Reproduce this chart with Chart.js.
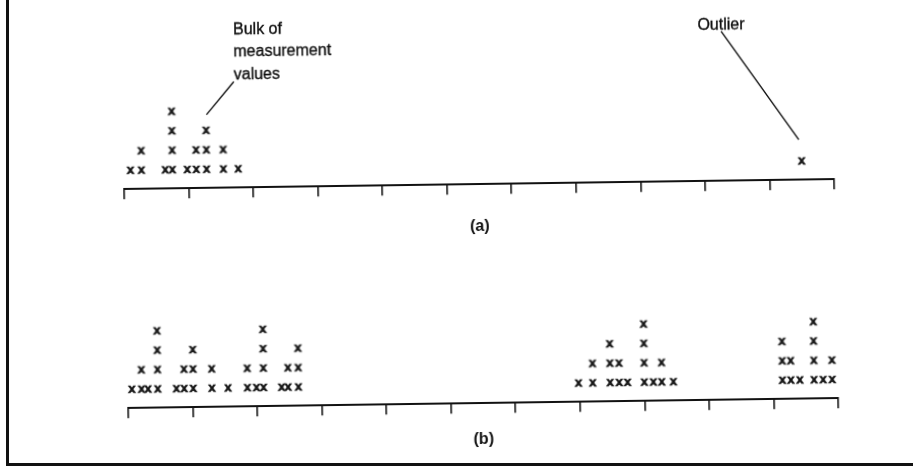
<!DOCTYPE html>
<html>
<head>
<meta charset="utf-8">
<script src="https://cdn.jsdelivr.net/npm/chart.js@4.4.1/dist/chart.umd.min.js"></script>
<style>
  html, body { margin: 0; padding: 0; background: #fff; }
  body { width: 913px; height: 467px; position: relative; overflow: hidden; }
  #frame { position: absolute; left: 6px; top: -5px; width: 920px; height: 471px; box-sizing: border-box;
           border-left: 3px solid #111; border-bottom: 3px solid #111; }
  /* the scanned figure is slightly tilted */
  #plot { position: absolute; left: 0; top: 0; width: 913px; height: 467px;
          transform: rotate(-0.8deg); transform-origin: 480px 240px; }
  #plot canvas { position: absolute; left: 0; }
  #chartA { top: 0; }
  #chartB { top: 240px; }
</style>
</head>
<body>
<div id="frame"></div>
<div id="plot">
  <canvas id="chartA" width="913" height="240"></canvas>
  <canvas id="chartB" width="913" height="227"></canvas>
</div>
<script>
// Measurement values, (a): bulk of the values and one outlier
const valoresA = [0.10, 0.27, 0.27, 0.64, 0.75, 0.75, 0.75, 0.75, 0.98,
                  1.12, 1.12, 1.28, 1.28, 1.28, 1.54, 1.54, 1.77];
const atipicoA = [10.50];

// Measurement values, (b): three clusters
const valoresB = [0.06, 0.21, 0.21, 0.31, 0.46, 0.46, 0.46, 0.46, 0.75, 0.87, 0.87,
                  1.01, 1.01, 1.01, 1.30, 1.30, 1.55, 1.85, 1.85, 1.99,
                  2.10, 2.10, 2.10, 2.10, 2.38, 2.48, 2.48, 2.64, 2.64, 2.64,
                  6.98, 7.20, 7.20, 7.47, 7.47, 7.47, 7.61, 7.61, 7.74,
                  8.00, 8.00, 8.00, 8.00, 8.14, 8.27, 8.27, 8.45,
                  10.14, 10.14, 10.14, 10.27, 10.27, 10.41, 10.63, 10.63, 10.63, 10.63,
                  10.77, 10.91, 10.91];

const rangoX = [0, 11];          // 12 unlabeled tick marks
const etiquetas = ['(a)', '(b)'];
const textoBulk = ['Bulk of', 'measurement', 'values'];
const textoOutlier = 'Outlier';

const tinta = '#111';
const fuente = '"Liberation Sans", Arial, sans-serif';

// Stack repeated values as a dot plot (level 1, 2, 3...)
function apilar(valores) {
    const cuenta = {};
    return valores.map(function(v) {
        cuenta[v] = (cuenta[v] || 0) + 1;
        return { x: v, y: cuenta[v] };
    });
}

// The marks are small letter "x" glyphs, a bit heavy like the printed ones
function crearMarcaX() {
    const c = document.createElement('canvas');
    c.width = 12;
    c.height = 12;
    const g = c.getContext('2d');
    g.fillStyle = tinta;
    g.strokeStyle = tinta;
    g.lineWidth = 0.6;
    g.font = 'bold 13.5px ' + fuente;
    g.textAlign = 'center';
    g.textBaseline = 'alphabetic';
    g.fillText('x', 6, 9.5);
    g.strokeText('x', 6, 9.5);
    return c;
}
const marcaX = crearMarcaX();

// Text labels and leader lines of chart (a)
const anotaciones = {
    id: 'anotaciones',
    afterDatasetsDraw(chart) {
        const ctx = chart.ctx;
        const x = chart.scales.x;
        const y = chart.scales.y;
        ctx.save();
        ctx.fillStyle = tinta;
        ctx.strokeStyle = tinta;
        ctx.lineWidth = 0.35;
        ctx.font = '16px ' + fuente;
        ctx.textBaseline = 'middle';

        ctx.textAlign = 'left';
        textoBulk.forEach(function(t, i) {
            const py = y.getPixelForValue(8.12) + i * 22.5;
            ctx.fillText(t, x.getPixelForValue(1.72), py);
            ctx.strokeText(t, x.getPixelForValue(1.72), py);
        });
        ctx.textAlign = 'center';
        ctx.fillText(textoOutlier, x.getPixelForValue(9.28), y.getPixelForValue(8.03));
        ctx.strokeText(textoOutlier, x.getPixelForValue(9.28), y.getPixelForValue(8.03));

        ctx.lineWidth = 1.4;
        ctx.beginPath();
        ctx.moveTo(x.getPixelForValue(1.72), y.getPixelForValue(5.46));
        ctx.lineTo(x.getPixelForValue(1.29), y.getPixelForValue(3.78));
        ctx.moveTo(x.getPixelForValue(9.28), y.getPixelForValue(7.71));
        ctx.lineTo(x.getPixelForValue(10.46), y.getPixelForValue(2.07));
        ctx.stroke();
        ctx.restore();
    }
};

function crearGrafico(id, datasets, etiqueta, yMax, padding, tituloPad, plugins) {
    return new Chart(document.getElementById(id), {
        type: 'scatter',
        data: { datasets: datasets },
        options: {
            responsive: false,
            animation: false,
            events: [],
            layout: { padding: padding },
            plugins: { legend: { display: false }, tooltip: { enabled: false } },
            scales: {
                x: {
                    type: 'linear',
                    min: rangoX[0],
                    max: rangoX[1],
                    ticks: { display: false, stepSize: 1 },
                    grid: { drawOnChartArea: false, drawTicks: true, tickLength: 10, color: tinta, lineWidth: 1.6 },
                    border: { display: true, color: tinta, width: 2 },
                    title: {
                        display: true,
                        text: etiqueta,
                        color: tinta,
                        font: { family: fuente, size: 16, weight: 'bold' },
                        padding: { top: tituloPad, bottom: 0 }
                    }
                },
                y: { display: false, min: 0, max: yMax }
            }
        },
        plugins: plugins
    });
}

function serie(nombre, valores) {
    return {
        label: nombre,
        data: apilar(valores),
        pointStyle: marcaX,
        pointRadius: 4,
        clip: false
    };
}

window.onload = function() {
    crearGrafico('chartA', [serie('Bulk', valoresA), serie('Outlier', atipicoA)], etiquetas[0], 9,
        { left: 125, right: 78, top: 9.5, bottom: 4 }, 22.5, [anotaciones]);
    crearGrafico('chartB', [serie('Values', valoresB)], etiquetas[1], 6,
        { left: 126, right: 77, top: 47, bottom: 18 }, 16.5, []);
};
</script>
</body>
</html>
